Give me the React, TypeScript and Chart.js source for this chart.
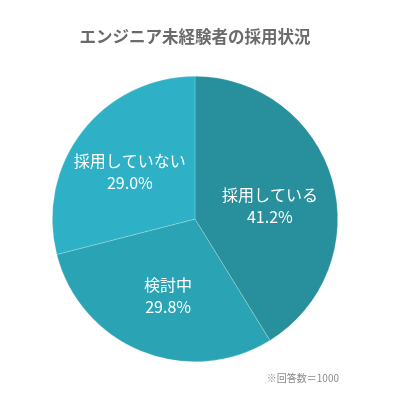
import React, { useEffect, useRef } from "react";
import { Chart, registerables } from "chart.js";

Chart.register(...registerables);

const categories = ["採用している", "検討中", "採用していない"];
const values = [41.2, 29.8, 29.0];
const colors = ["#288F9C", "#2AA4B4", "#2EB1C7"];
const titleText = "エンジニア未経験者の採用状況";
const noteText = "※回答数＝1000";

const FONT = "'Noto Sans CJK JP', 'Noto Sans', sans-serif";

// small label nudges (pixels) to mimic the reference's best-fit label placement
const labelNudges = [
  [-2, 9],
  [3, 3],
  [-2, 2],
];

const labelPlugin = {
  id: "sliceLabels",
  afterDraw(chart: any) {
    const ctx = chart.ctx;
    const meta = chart.getDatasetMeta(0);
    ctx.save();
    ctx.fillStyle = "#ffffff";
    ctx.textAlign = "center";
    ctx.textBaseline = "middle";
    ctx.font = `400 16px ${FONT}`;
    meta.data.forEach((arc: any, i: number) => {
      const p = arc.getProps(["x", "y", "startAngle", "endAngle", "outerRadius"], true);
      const mid = (p.startAngle + p.endAngle) / 2;
      const r = p.outerRadius * 0.56;
      const n = labelNudges[i] || [0, 0];
      const cx = p.x + Math.cos(mid) * r + n[0];
      const cy = p.y + Math.sin(mid) * r + n[1];
      ctx.fillText(categories[i], cx, cy - 11);
      ctx.fillText(values[i].toFixed(1) + "%", cx, cy + 11);
    });
    // title
    ctx.textAlign = "center";
    ctx.fillStyle = "#6a6a6a";
    ctx.font = `700 16.5px ${FONT}`;
    ctx.fillText(titleText, 195, 37);
    // note
    ctx.fillStyle = "#8a8a8a";
    ctx.textAlign = "right";
    ctx.font = `400 10px ${FONT}`;
    ctx.fillText(noteText, 339, 378);
    ctx.restore();
  },
};

export default function App() {
  const ref = useRef<HTMLCanvasElement | null>(null);
  useEffect(() => {
    document.body.style.margin = "0";
    const c = ref.current;
    if (!c) return;
    const chart = new Chart(c, {
      type: "pie",
      data: {
        labels: categories,
        datasets: [
          {
            data: values,
            backgroundColor: colors,
            borderColor: "rgba(255,255,255,0.35)",
            borderWidth: 0.6,
          },
        ],
      },
      options: {
        responsive: false,
        animation: false,
        devicePixelRatio: 1,
        layout: { padding: { left: 52, right: 70, top: 76, bottom: 46 } },
        plugins: {
          legend: { display: false },
          title: { display: false },
          tooltip: { enabled: false },
        },
      },
      plugins: [labelPlugin],
    });
    return () => chart.destroy();
  }, []);
  return (
    <div style={{ width: 408, height: 408, background: "#fff" }}>
      <canvas ref={ref} width={408} height={408} style={{ display: "block" }} />
    </div>
  );
}
